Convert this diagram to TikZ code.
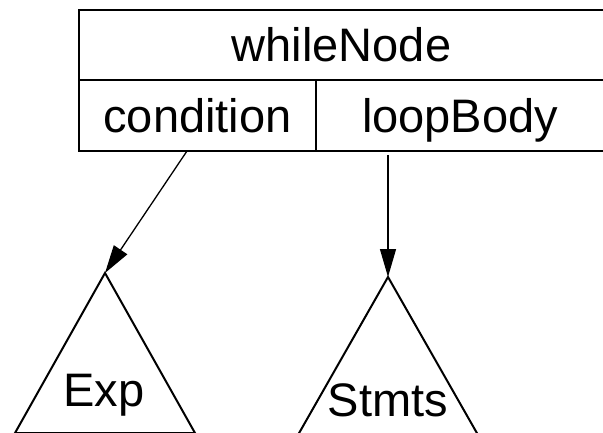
\documentclass[tikz,border=0pt]{standalone}
\usepackage{fontspec}
\setmainfont{Liberation Sans}
\usetikzlibrary{arrows.meta}

\begin{document}
\begin{tikzpicture}[x=1pt, y=1pt,
  cell/.style={draw, line width=2.5pt, rectangle, inner sep=0pt,
    font=\fontsize{47}{56}\selectfont, text height=33.6pt, text depth=0pt},
  subtree/.style={draw, line width=2pt, line join=miter},
  label/.style={font=\fontsize{47}{56}\selectfont, anchor=base, inner sep=0pt},
  link/.style={draw, line width=1.3pt, -{Triangle[length=28pt, width=16pt]}}
]
\useasboundingbox (0,0) rectangle (603,432);

% record box: header row and two field cells
\node[cell, minimum width=525pt, minimum height=70pt] (head) at (341.5,387) {whileNode};
\node[cell, minimum width=237pt, minimum height=71pt] (cond) at (197.5,316.5) {condition};
\node[cell, minimum width=288pt, minimum height=71pt] (body) at (460,316.5) {loopBody};

% subtree triangles
\coordinate (expTop) at (105,159);
\coordinate (stmtsTop) at (388,155);
\draw[subtree] (expTop) -- (15,-1) -- (195,-1) -- cycle;
\draw[subtree] (stmtsTop) -- (297.4,-4) -- (478.6,-4) -- cycle;
\node[label] (exp) at (104,26) {Exp};
\node[label] (stmts) at (388,16) {Stmts};

% field pointers
\coordinate (condOut) at (187,281);
\coordinate (bodyOut) at (388,277);
\draw[link] (condOut) -- (expTop);
\draw[link] (bodyOut) -- (stmtsTop);
\end{tikzpicture}
\end{document}
